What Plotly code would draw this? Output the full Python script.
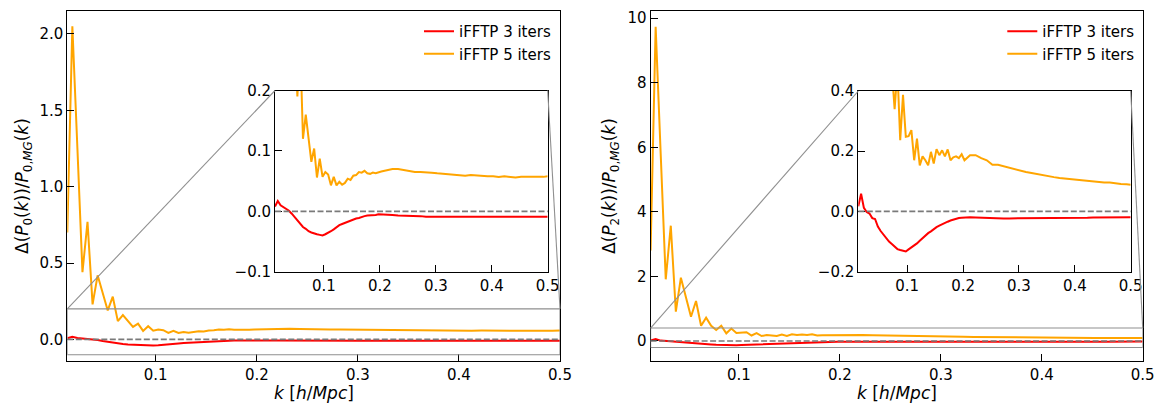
import plotly.graph_objects as go

# ---------------- data ----------------
k = [0.0125, 0.0175, 0.0225, 0.0275, 0.0325, 0.0375, 0.0425, 0.0475, 0.0525, 0.0575,
     0.0625, 0.0675, 0.0725, 0.0775, 0.0825, 0.0875, 0.0925, 0.0975, 0.1025, 0.1075,
     0.1125, 0.1175, 0.1225, 0.1275, 0.1325, 0.1375, 0.1425, 0.1475, 0.1525, 0.1575,
     0.1625, 0.1675, 0.1725, 0.1775, 0.1825, 0.1875, 0.1925, 0.1975, 0.2025, 0.2125,
     0.2225, 0.2325, 0.2425, 0.2525, 0.2625, 0.2725, 0.2825, 0.2925, 0.3025, 0.3125,
     0.3225, 0.3325, 0.3425, 0.3525, 0.3625, 0.3725, 0.3825, 0.3925, 0.4025, 0.4125,
     0.4225, 0.4325, 0.4425, 0.4525, 0.4625, 0.4725, 0.4825, 0.4925, 0.5]

p0_3iters = [0.008, 0.017, 0.010, 0.007, 0.005, 0.001, -0.004, -0.010, -0.016, -0.021,
             -0.026, -0.029, -0.033, -0.035, -0.037, -0.038, -0.039, -0.040, -0.038, -0.036,
             -0.033, -0.030, -0.026, -0.023, -0.021, -0.019, -0.017, -0.015, -0.014, -0.012,
             -0.011, -0.009, -0.008, -0.007, -0.007, -0.006, -0.006, -0.005, -0.005, -0.006,
             -0.006, -0.007, -0.007, -0.008, -0.008, -0.008, -0.009, -0.009, -0.009, -0.009,
             -0.009, -0.009, -0.009, -0.009, -0.009, -0.009, -0.009, -0.009, -0.009, -0.009,
             -0.009, -0.009, -0.009, -0.009, -0.009, -0.009, -0.009, -0.009, -0.009]

p0_5iters = [0.70, 2.05, 1.25, 0.44, 0.77, 0.23, 0.42, 0.30, 0.19, 0.28,
             0.12, 0.16, 0.12, 0.082, 0.104, 0.056, 0.087, 0.057, 0.065, 0.061,
             0.043, 0.057, 0.043, 0.049, 0.044, 0.047, 0.054, 0.052, 0.059, 0.060,
             0.065, 0.064, 0.067, 0.063, 0.062, 0.064, 0.063, 0.065, 0.066, 0.068,
             0.070, 0.070, 0.068, 0.066, 0.065, 0.065, 0.065, 0.064, 0.063, 0.062,
             0.061, 0.060, 0.060, 0.059, 0.060, 0.059, 0.059, 0.058, 0.058, 0.057,
             0.058, 0.057, 0.056, 0.057, 0.057, 0.056, 0.057, 0.057, 0.058]

p2_3iters = [0.017, 0.059, 0.012, -0.002, -0.007, -0.022, -0.025, -0.050, -0.065, -0.078,
             -0.090, -0.100, -0.108, -0.118, -0.125, -0.128, -0.130, -0.133, -0.126, -0.120,
             -0.113, -0.106, -0.097, -0.088, -0.080, -0.072, -0.066, -0.058, -0.052, -0.047,
             -0.042, -0.038, -0.034, -0.030, -0.027, -0.024, -0.022, -0.021, -0.020, -0.019,
             -0.020, -0.021, -0.022, -0.022, -0.023, -0.023, -0.023, -0.023, -0.023, -0.023,
             -0.023, -0.023, -0.023, -0.022, -0.022, -0.022, -0.022, -0.021, -0.021, -0.021,
             -0.021, -0.020, -0.020, -0.020, -0.020, -0.019, -0.019, -0.019, -0.019]

p2_5iters = [2.8, 9.73, 5.8, 1.91, 3.57, 0.91, 1.96, 1.35, 0.75, 1.24,
             0.47, 0.72, 0.47, 0.34, 0.47, 0.237, 0.387, 0.248, 0.25, 0.27,
             0.17, 0.242, 0.153, 0.183, 0.17, 0.153, 0.198, 0.159, 0.207, 0.187,
             0.203, 0.183, 0.206, 0.17, 0.18, 0.183, 0.177, 0.19, 0.17, 0.187,
             0.187, 0.177, 0.17, 0.155, 0.155, 0.15, 0.146, 0.14, 0.136, 0.131,
             0.128, 0.124, 0.12, 0.117, 0.114, 0.111, 0.109, 0.107, 0.106, 0.103,
             0.100, 0.098, 0.097, 0.096, 0.096, 0.093, 0.091, 0.090, 0.089]

series_names = ["iFFTP 3 iters", "iFFTP 5 iters"]
x_ticks = [0.1, 0.2, 0.3, 0.4, 0.5]
y_ticks_main_p0 = [0.0, 0.5, 1.0, 1.5, 2.0]
y_ticks_main_p2 = [0, 2, 4, 6, 8, 10]
y_ticks_ins_p0 = [-0.1, 0.0, 0.1, 0.2]
y_ticks_ins_p2 = [-0.2, 0.0, 0.2, 0.4]

# ---------------- layout geometry ----------------
W, H = 1163, 403
FONT = "DejaVu Sans"
RED, ORANGE = "#ff0000", "#ffa500"
GRAY = "#8f8f8f"

x_range = [0.0125, 0.5]
y_range_main = {1: [-0.141, 2.150], 2: [-0.62, 10.22]}
y_range_ins = {1: [-0.1, 0.2], 2: [-0.2, 0.4]}

# pixel boxes: left, right, top, bottom
box_main = {1: (67.3, 560.0, 11.0, 361.0), 2: (650.6, 1142.7, 11.0, 361.0)}
box_ins = {1: (275.0, 547.7, 90.5, 271.7), 2: (858.3, 1130.7, 91.0, 271.7)}


def dom(box):
    l, r, t, b = box
    return [l / W, r / W], [1 - b / H, 1 - t / H]


def axis(domain, rng, tickvals, fmt, anchor):
    return dict(domain=domain, range=rng, tickmode="array", tickvals=tickvals,
                tickformat=fmt, ticks="inside", ticklen=7, tickwidth=1,
                tickcolor="black", showline=True, linecolor="black", linewidth=1,
                mirror=True, showgrid=False, zeroline=False, anchor=anchor,
                automargin=False,
                tickfont=dict(family=FONT, size=15, color="black"))


fig = go.Figure()
layout = {}
shapes = []
annotations = []

panels = {1: (p0_3iters, p0_5iters), 2: (p2_3iters, p2_5iters)}
for p in (1, 2):
    s3, s5 = panels[p]
    mx, my = ("x", "y") if p == 1 else ("x2", "y2")
    ix, iy = f"x{p + 2}", f"y{p + 2}"
    leg = "legend" if p == 1 else "legend2"
    for j, (ys, col) in enumerate(((s3, RED), (s5, ORANGE))):
        fig.add_trace(go.Scatter(x=k, y=ys, mode="lines", name=series_names[j],
                                 line=dict(color=col, width=2), xaxis=mx, yaxis=my,
                                 legend=leg, showlegend=True))
        fig.add_trace(go.Scatter(x=k, y=ys, mode="lines", name=series_names[j],
                                 line=dict(color=col, width=2), xaxis=ix, yaxis=iy,
                                 showlegend=False))

    dxm, dym = dom(box_main[p])
    dxi, dyi = dom(box_ins[p])
    suffix_m = "" if p == 1 else "2"
    suffix_i = str(p + 2)
    ytm = y_ticks_main_p0 if p == 1 else y_ticks_main_p2
    yfm = ".1f" if p == 1 else "d"
    yti = y_ticks_ins_p0 if p == 1 else y_ticks_ins_p2
    layout["xaxis" + suffix_m] = axis(dxm, x_range, x_ticks, ".1f", my)
    layout["yaxis" + suffix_m] = axis(dym, y_range_main[p], ytm, yfm, mx)
    layout["xaxis" + suffix_i] = axis(dxi, x_range, x_ticks, ".1f", iy)
    layout["yaxis" + suffix_i] = axis(dyi, y_range_ins[p], yti, ".1f", ix)

    # zero dashed lines
    for xa, ya in ((mx, my), (ix, iy)):
        shapes.append(dict(type="line", xref=f"{xa} domain", yref=ya, x0=0, x1=1,
                           y0=0, y1=0, line=dict(color="#7a7a7a", width=1.7, dash="6px,2.5px"),
                           layer="above"))

    # zoom rectangle in the main axes
    y0z, y1z = y_range_ins[p]
    shapes.append(dict(type="rect", xref=mx, yref=my, x0=x_range[0], x1=x_range[1],
                       y0=y0z, y1=y1z, line=dict(color=GRAY, width=1.1),
                       fillcolor="rgba(0,0,0,0)", layer="above"))

    # connectors: rect upper-left -> inset upper-left, rect upper-right -> inset upper-right
    yr = y_range_main[p]
    py_rect = dym[0] + (y1z - yr[0]) / (yr[1] - yr[0]) * (dym[1] - dym[0])
    shapes.append(dict(type="line", xref="paper", yref="paper", x0=dxm[0], y0=py_rect,
                       x1=dxi[0], y1=dyi[1], line=dict(color=GRAY, width=1.1)))
    shapes.append(dict(type="line", xref="paper", yref="paper", x0=dxm[1], y0=py_rect,
                       x1=dxi[1], y1=dyi[1], line=dict(color=GRAY, width=1.1)))

    # axis titles
    cx = (dxm[0] + dxm[1]) / 2
    annotations.append(dict(text="<i>k</i> [<i>h</i>/<i>Mpc</i>]", xref="paper", yref="paper",
                            x=cx, y=1 - 393 / H, xanchor="center", yanchor="middle",
                            showarrow=False, font=dict(family=FONT, size=17, color="black")))
    ylab = ("Δ(<i>P</i><sub>0</sub>(<i>k</i>))/<i>P</i><sub>0,<i>MG</i></sub>(<i>k</i>)" if p == 1
            else "Δ(<i>P</i><sub>2</sub>(<i>k</i>))/<i>P</i><sub>0,<i>MG</i></sub>(<i>k</i>)")
    ylx = 23 if p == 1 else 610
    annotations.append(dict(text=ylab, xref="paper", yref="paper", x=ylx / W,
                            y=(dym[0] + dym[1]) / 2, xanchor="center", yanchor="middle",
                            textangle=-90, showarrow=False,
                            font=dict(family=FONT, size=17, color="black")))

legend_common = dict(xanchor="left", yanchor="top", bgcolor="rgba(0,0,0,0)",
                     font=dict(family=FONT, size=15, color="black"), itemwidth=30,
                     borderwidth=0)

fig.update_layout(
    width=W, height=H, autosize=False,
    margin=dict(l=0, r=0, t=0, b=0, pad=0, autoexpand=False),
    paper_bgcolor="white", plot_bgcolor="rgba(0,0,0,0)",
    font=dict(family=FONT, size=15, color="black"),
    shapes=shapes, annotations=annotations,
    legend=dict(x=419 / W, y=1 - 15 / H, **legend_common),
    legend2=dict(x=(419 + 583.3) / W, y=1 - 15 / H, **legend_common),
    **layout,
)

fig.write_html("out.html")
